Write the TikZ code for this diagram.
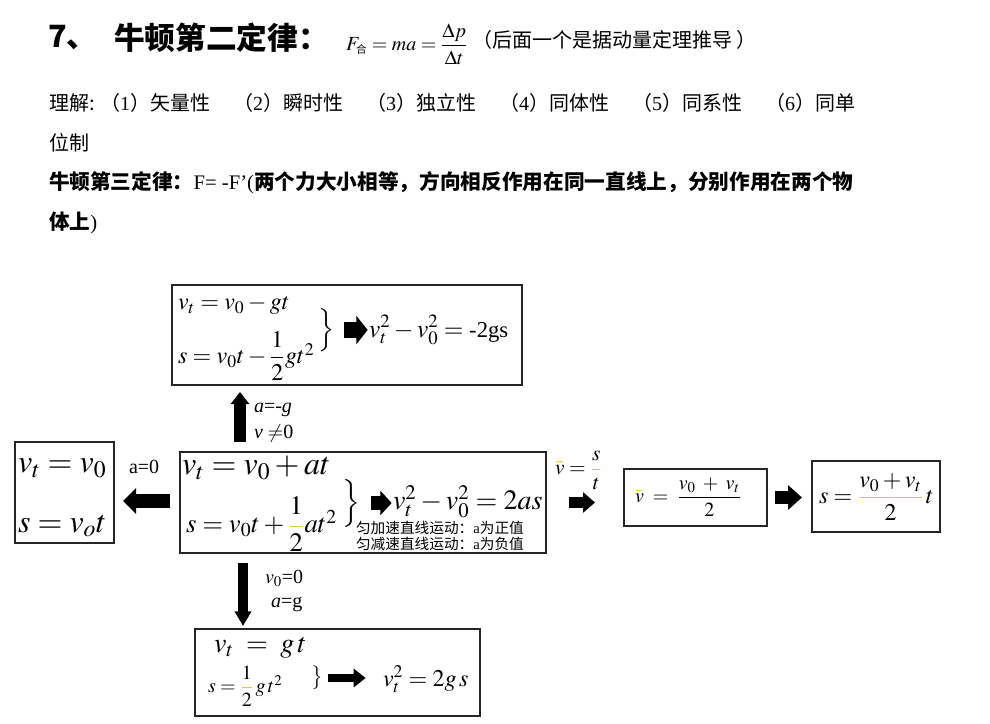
\documentclass[tikz,border=0pt]{standalone}
\usepackage{amsmath}
\usepackage{mathptmx}
\usepackage{fontspec}
\setmainfont{Liberation Serif}
\newfontfamily\cjk{Noto Sans CJK SC}
\usetikzlibrary{arrows.meta,fit}
\definecolor{hl}{RGB}{214,206,60}
\newcommand\fsz[1]{\fontsize{#1}{#1}\selectfont}
\newcommand\mybrace[1]{$\left.\vrule height #1 depth #1 width 0pt\right\}$}
\newcommand\grp[2]{{\cjk （}#1{\cjk ）#2}}
\newcommand\yfrac[2]{{\color{hl}\dfrac{\color{black}#1}{\color{black}#2}}}
\newcommand\ybar{{\color{hl}\bar{\color{black}v}}}
\begin{document}
\begin{tikzpicture}[x=0.75pt,y=-0.75pt,
  every node/.style={inner sep=0pt, outer sep=0pt},
  box/.style={draw=black!85, line width=1.1pt, inner sep=0pt},
  lbl/.style={anchor=west},
  fat/.style n args={3}{line width=#1, -{Triangle[length=#2,width=#3]}},
]
\fill[white] (0,0) rectangle (990,724);
\useasboundingbox (0,0) rectangle (990,724);

% ---------- header text ----------
\node[lbl, font={\cjk\bfseries\fsz{23}}] (t7) at (48,38) {7、};
\node[lbl, font={\cjk\bfseries\fsz{23}}] (t2) at (114,38) {牛顿第二定律：};
\node[lbl, font=\fsz{15}] (fma) at (346,44) {$F_{\mbox{\cjk\fsz{8}合}} = ma = \dfrac{\Delta p}{\Delta t}$};
\node[lbl, font={\cjk\fsz{15}}] (note) at (472,40) {（后面一个是据动量定理推导 ）};

\node[lbl, font={\cjk\fsz{15}}] (u0) at (49,103) {理解:};
\node[lbl, font=\fsz{15}] (u1) at (100,103) {\grp{1}{矢量性}};
\node[lbl, font=\fsz{15}] (u2) at (233,103) {\grp{2}{瞬时性}};
\node[lbl, font=\fsz{15}] (u3) at (366,103) {\grp{3}{独立性}};
\node[lbl, font=\fsz{15}] (u4) at (499,103) {\grp{4}{同体性}};
\node[lbl, font=\fsz{15}] (u5) at (632,103) {\grp{5}{同系性}};
\node[lbl, font=\fsz{15}] (u6) at (765,103) {\grp{6}{同单}};
\node[lbl, font={\cjk\fsz{15}}] (u7) at (49,143) {位制};

\node[lbl, font=\fsz{15.5}] (l3) at (49,183) {{\cjk\bfseries 牛顿第三定律：}F= -F’({\cjk\bfseries 两个力大小相等，方向相反作用在同一直线上，分别作用在两个物}};
\node[lbl, font=\fsz{15.5}] (l4) at (49,223) {{\cjk\bfseries 体上})};

% ---------- top box ----------
\node[box, fit={(172,285)(522,385)}] (topbox) {};
\node[lbl, font=\fsz{18}] (tv) at (178,305) {$v_t = v_0 - gt$};
\node[lbl, font=\fsz{18}] (ts) at (178,356) {$s = v_0t - \dfrac{1}{2}gt^2$};
\node[font=\fsz{18}] (tbr) at (326,330) {\mybrace{11pt}};
\node[lbl, font=\fsz{19}] (tres) at (369,330) {$v_t^2 - v_0^2 = \mbox{\fsz{17}-2gs}$};
\draw[fat={12pt}{8.5pt}{21pt}, shorten <=7pt, shorten >=1pt] (tbr.east) -- (tbr.east -| tres.west);

% ---------- main box ----------
\node[box, fit={(180,452)(546,553)}] (mainbox) {};
\node[lbl, font=\fsz{24}] (mv) at (182,468) {$v_t = v_0 + at$};
\node[lbl, font=\fsz{20}] (ms) at (186,524) {$s = v_0t + \yfrac{1}{2}at^2$};
\node[font=\fsz{20}] (mbr) at (351,503) {\mybrace{9pt}};
\node[lbl, font=\fsz{21}] (mres) at (393,502) {$v_t^2 - v_0^2 = 2as$};
\draw[fat={10.5pt}{8.5pt}{18pt}, shorten <=8pt, shorten >=1pt] (mbr.east) -- (mbr.east -| mres.west);
\node[lbl, font={\cjk\fsz{11}}] (mn1) at (356,528) {匀加速直线运动：{\rmfamily a}为正值};
\node[lbl, font={\cjk\fsz{11}}] (mn2) at (356,544) {匀减速直线运动：{\rmfamily a}为负值};

% ---------- left box ----------
\node[box, fit={(15,442)(114,543)}] (leftbox) {};
\node[lbl, font=\fsz{24}] (lv1) at (18,468) {$v_t = v_0$};
\node[lbl, font=\fsz{24}] (ls1) at (18,526) {$s = v_ot$};
\coordinate (ly) at (0,501);
\draw[fat={10.5pt}{9.75pt}{18.75pt}, shorten <=7.5pt, shorten >=6.75pt] (mainbox.west |- ly) -- (leftbox.east |- ly);
\node[lbl, font=\fsz{15}] (a0) at (129,467) {a=0};

% ---------- bottom box ----------
\node[box, fit={(195,629)(480,716)}] (botbox) {};
\node[lbl, font=\fsz{21}] (bv) at (214,648) {$v_t \;=\; g\,t$};
\node[lbl, font=\fsz{15}] (bs) at (208,686) {$s = \yfrac{1}{2}\,g\,t^2$};
\node[font=\fsz{15}] (bbr) at (317,678) {\mybrace{6pt}};
\node[lbl, font=\fsz{18}] (bres) at (383,679) {$v_t^2 = 2g\,s$};
\draw[fat={6pt}{9pt}{13.5pt}, shorten <=3pt, shorten >=13pt] (bbr.east) -- (bbr.east -| bres.west);

% ---------- up arrow ----------
\coordinate (upx) at (240,0);
\draw[fat={8.5pt}{9pt}{13.5pt}, shorten <=7.5pt, shorten >=5.25pt] (mainbox.north -| upx) -- (topbox.south -| upx);
\node[lbl, font=\fsz{15}] (lag) at (254,410) {\textit{a}=-\textit{g}};
\node[lbl, font=\fsz{15}] (lvn) at (254,433) {\textit{v} $\neq$0};

% ---------- down arrow ----------
\coordinate (dnx) at (243,0);
\draw[fat={7pt}{11pt}{12pt}, shorten <=7.5pt, shorten >=2.25pt] (mainbox.south -| dnx) -- (botbox.north -| dnx);
\node[lbl, font=\fsz{15}] (lv0) at (265,578) {$v_0$=0};
\node[lbl, font=\fsz{15}] (lag2) at (271,605) {\textit{a}=g};

% ---------- right side ----------
\node[lbl, font=\fsz{16}] (vbar) at (555,470) {$\ybar = \yfrac{s}{t}$};
\node[box, fit={(624,469)(767,526)}] (box2) {};
\node[lbl, font=\fsz{15}] (b2t) at (635,497) {$\ybar \;=\; \dfrac{v_0 \;+\; v_t}{2}$};
\node[box, fit={(812,461)(940,532)}] (box3) {};
\node[lbl, font=\fsz{18}] (b3t) at (819,497) {$s = \yfrac{v_0 + v_t}{2}\,t$};
\draw[fat={8.5pt}{9pt}{15pt}, shorten <=17.25pt, shorten >=21.75pt] (mainbox.east) -- (mainbox.east -| box2.west);
\draw[fat={9.75pt}{10.5pt}{18pt}, shorten <=6pt, shorten >=7.5pt] (box2.east) -- (box2.east -| box3.west);
\end{tikzpicture}
\end{document}
